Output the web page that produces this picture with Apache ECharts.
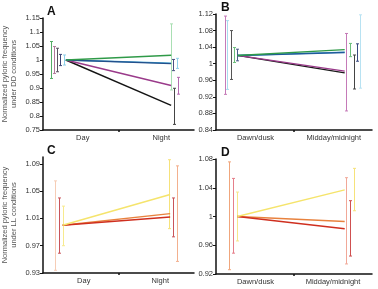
<!DOCTYPE html>
<html><head><meta charset="utf-8">
<script src="https://cdn.jsdelivr.net/npm/echarts@6/dist/echarts.min.js"></script>
<style>html,body{margin:0;padding:0;background:#fff}#c{width:378px;height:289px}</style>
</head><body><div id="c"></div>
<script>
// ---- categories ----
const catsAC = ['Day', 'Night'];
const catsBD = ['Dawn/dusk', 'Midday/midnight'];
// ---- tick labels ----
const ticksA = [0.75, 0.8, 0.85, 0.9, 0.95, 1, 1.05, 1.1, 1.15];
const ticksB = [0.84, 0.88, 0.92, 0.96, 1, 1.04, 1.08, 1.12];
const ticksC = [0.93, 0.97, 1.01, 1.05, 1.09];
const ticksD = [0.92, 0.96, 1, 1.04, 1.08];
// ---- Panel A (DD, day/night) ----
const A_green = [1.000, 1.017], A_green_lo = [0.934, 0.893], A_green_hi = [1.066, 1.129];
const A_magenta = [1.000, 0.909], A_magenta_lo = [0.952, 0.878], A_magenta_hi = [1.048, 0.938];
const A_black = [1.000, 0.838], A_black_lo = [0.958, 0.770], A_black_hi = [1.042, 0.899];
const A_dblue = [1.000, 0.987], A_dblue_lo = [0.980, 0.962], A_dblue_hi = [1.020, 1.002];
const A_lblue = [1.000, 0.989], A_lblue_lo = [0.982, 0.970], A_lblue_hi = [1.018, 1.006];
// ---- Panel B (DD, dawn-dusk / midday-midnight) ----
const B_magenta = [1.020, 0.982], B_magenta_lo = [0.926, 0.886], B_magenta_hi = [1.115, 1.073];
const B_lblue = [1.020, 1.028], B_lblue_lo = [0.938, 0.941], B_lblue_hi = [1.104, 1.118];
const B_black = [1.020, 0.978], B_black_lo = [0.962, 0.939], B_black_hi = [1.080, 1.021];
const B_green = [1.020, 1.034], B_green_lo = [1.003, 1.017], B_green_hi = [1.039, 1.049];
const B_dblue = [1.020, 1.027], B_dblue_lo = [1.007, 1.006], B_dblue_hi = [1.035, 1.048];
// ---- Panel C (LL, day/night) ----
const C_orange = [1.000, 1.017], C_orange_lo = [0.934, 0.947], C_orange_hi = [1.065, 1.087];
const C_red = [1.000, 1.012], C_red_lo = [0.959, 0.983], C_red_hi = [1.040, 1.040];
const C_yellow = [1.000, 1.045], C_yellow_lo = [0.970, 0.995], C_yellow_hi = [1.028, 1.096];
// ---- Panel D (LL, dawn-dusk / midday-midnight) ----
const D_orange = [1.000, 0.993], D_orange_lo = [0.926, 0.934], D_orange_hi = [1.076, 1.054];
const D_red = [1.000, 0.983], D_red_lo = [0.949, 0.945], D_red_hi = [1.053, 1.022];
const D_yellow = [1.000, 1.037], D_yellow_lo = [0.966, 1.008], D_yellow_hi = [1.034, 1.067];

// ---- layout / style (not data) ----
const FONT = 'Liberation Sans, Arial, sans-serif';
const panels = [
  { id: 'A', cats: catsAC, ticks: ticksA, min: 0.75, max: 1.15,
    grid: { left: 42, top: 18, width: 152, height: 112 }, labelX: [40, 119], lineX: [23, 129],
    yName: 'Normalized pyloric frequency\nunder DD conditions',
    series: [
      { m: A_black, lo: A_black_lo, hi: A_black_hi, line: '#141414', bars: ['#5a5060', '#444444'], bx: [14, 132] },
      { m: A_magenta, lo: A_magenta_lo, hi: A_magenta_hi, line: '#9a3a8a', bars: ['#b27a9c', '#b46ab0'], bx: [10.7, 135.7] },
      { m: A_lblue, lo: A_lblue_lo, hi: A_lblue_hi, line: '#3aa0d0', bars: ['#8fd0ea', '#8fd0ea'], bx: [20.7, 135.3] },
      { m: A_dblue, lo: A_dblue_lo, hi: A_dblue_hi, line: '#23508c', bars: ['#3c4678', '#4a4f80'], bx: [17.3, 131.3] },
      { m: A_green, lo: A_green_lo, hi: A_green_hi, line: '#2f9a48', bars: ['#55ad66', '#a9dfb3'], bx: [8, 129] }
    ] },
  { id: 'B', cats: catsBD, ticks: ticksB, min: 0.84, max: 1.12,
    grid: { left: 216, top: 14, width: 156, height: 116 }, labelX: [39.5, 117.8], lineX: [21.3, 128.7],
    series: [
      { m: B_lblue, lo: B_lblue_lo, hi: B_lblue_hi, line: '#5ab0d8', bars: ['#a8dcef', '#b8e2f2'], bx: [11.3, 144] },
      { m: B_black, lo: B_black_lo, hi: B_black_hi, line: '#1a1a1a', bars: ['#555555', '#444444'], bx: [14.7, 137.7] },
      { m: B_magenta, lo: B_magenta_lo, hi: B_magenta_hi, line: '#9a3a8a', bars: ['#c57ab8', '#c57ab8'], bx: [8.7, 130.3] },
      { m: B_dblue, lo: B_dblue_lo, hi: B_dblue_hi, line: '#1f5a9a', bars: ['#4a5a8a', '#3a4a80'], bx: [21.3, 141] },
      { m: B_green, lo: B_green_lo, hi: B_green_hi, line: '#2f9a48', bars: ['#6cbf7c', '#6cbf7c'], bx: [17.7, 133.7] }
    ] },
  { id: 'C', cats: catsAC, ticks: ticksC, min: 0.93, max: 1.10,
    grid: { left: 42, top: 157, width: 152, height: 116 }, labelX: [41, 118], lineX: [19.7, 128],
    yName: 'Normalized pyloric frequency\nunder LL conditions',
    series: [
      { m: C_orange, lo: C_orange_lo, hi: C_orange_hi, line: '#e8823e', bars: ['#f6cdb6', '#f3b08e'], bx: [12, 134.7] },
      { m: C_red, lo: C_red_lo, hi: C_red_hi, line: '#cf2f1f', bars: ['#c9545a', '#c9545a'], bx: [15.7, 131.3] },
      { m: C_yellow, lo: C_yellow_lo, hi: C_yellow_hi, line: '#f5e46c', bars: ['#f7ea8e', '#f6e27a'], bx: [19.7, 127.3] }
    ] },
  { id: 'D', cats: catsBD, ticks: ticksD, min: 0.92, max: 1.08,
    grid: { left: 216, top: 159, width: 156, height: 115 }, labelX: [39.5, 117], lineX: [21.3, 128.7],
    series: [
      { m: D_orange, lo: D_orange_lo, hi: D_orange_hi, line: '#e8823e', bars: ['#f0a67c', '#f1a898'], bx: [13, 129.7] },
      { m: D_red, lo: D_red_lo, hi: D_red_hi, line: '#cf2f1f', bars: ['#e57f8a', '#cf5050'], bx: [17, 133.7] },
      { m: D_yellow, lo: D_yellow_lo, hi: D_yellow_hi, line: '#f5e46c', bars: ['#f7e68a', '#f6e27a'], bx: [21, 138] }
    ] }
];

function errRender(colors) {
  return function (params, api) {
    const x = api.value(0), lo = api.value(1), hi = api.value(2);
    const p1 = api.coord([x, hi]), p2 = api.coord([x, lo]);
    const px = Math.round(p1[0]) + 0.5;
    const st = { stroke: colors[params.dataIndex], lineWidth: 1 };
    return { type: 'group', children: [
      { type: 'line', shape: { x1: px, y1: p1[1], x2: px, y2: p2[1] }, style: st },
      { type: 'line', shape: { x1: px - 1.5, y1: p1[1], x2: px + 1.5, y2: p1[1] }, style: st },
      { type: 'line', shape: { x1: px - 1.5, y1: p2[1], x2: px + 1.5, y2: p2[1] }, style: st }
    ] };
  };
}

const grids = [], xAxes = [], yAxes = [], series = [], titles = [];
panels.forEach((p, i) => {
  grids.push(p.grid);
  const W = p.grid.width;
  xAxes.push({
    type: 'value', gridIndex: i, min: 0, max: W,
    axisLine: { show: true, lineStyle: { color: '#111', width: 1.5 } },
    axisTick: { show: true, length: 2, customValues: [W / 2], lineStyle: { color: '#111', width: 1.5 } },
    axisLabel: { customValues: p.labelX, formatter: v => (v < W / 2 ? p.cats[0] : p.cats[1]),
      fontSize: 7.5, color: '#333', fontFamily: FONT, margin: 4 },
    splitLine: { show: false }
  });
  yAxes.push({
    type: 'value', gridIndex: i, min: p.min, max: p.max,
    axisLine: { show: true, lineStyle: { color: '#111', width: 1.5 } },
    axisTick: { show: true, length: 3, customValues: p.ticks, lineStyle: { color: '#111', width: 1 } },
    axisLabel: { customValues: p.ticks, fontSize: 7.5, color: '#333', fontFamily: FONT, margin: 3 },
    splitLine: { show: false },
    name: p.yName || '', nameLocation: 'middle', nameGap: 25, nameRotate: 90,
    nameTextStyle: { fontSize: 7.5, lineHeight: 8.5, color: '#555', fontFamily: FONT }
  });
  titles.push({ text: p.id, left: p.grid.left + 5, top: p.grid.top - 12, padding: 0,
    textStyle: { fontSize: 12, fontWeight: 'bold', color: '#111', fontFamily: FONT } });
  // error bars first
  p.series.forEach(s => {
    series.push({
      type: 'custom', xAxisIndex: i, yAxisIndex: i, clip: false, silent: true,
      renderItem: errRender(s.bars),
      encode: { x: 0, y: [1, 2] },
      data: s.m.map((v, k) => [s.bx[k], s.lo[k], s.hi[k]])
    });
  });
  p.series.forEach(s => {
    series.push({
      type: 'line', xAxisIndex: i, yAxisIndex: i, symbol: 'none', silent: true,
      lineStyle: { color: s.line, width: 1.4 },
      data: s.m.map((v, k) => [p.lineX[k], v])
    });
  });
});

const chart = echarts.init(document.getElementById('c'), null, { renderer: 'canvas' });
chart.setOption({ animation: false, backgroundColor: '#fff', title: titles, grid: grids, xAxis: xAxes, yAxis: yAxes, series: series });
</script></body></html>
